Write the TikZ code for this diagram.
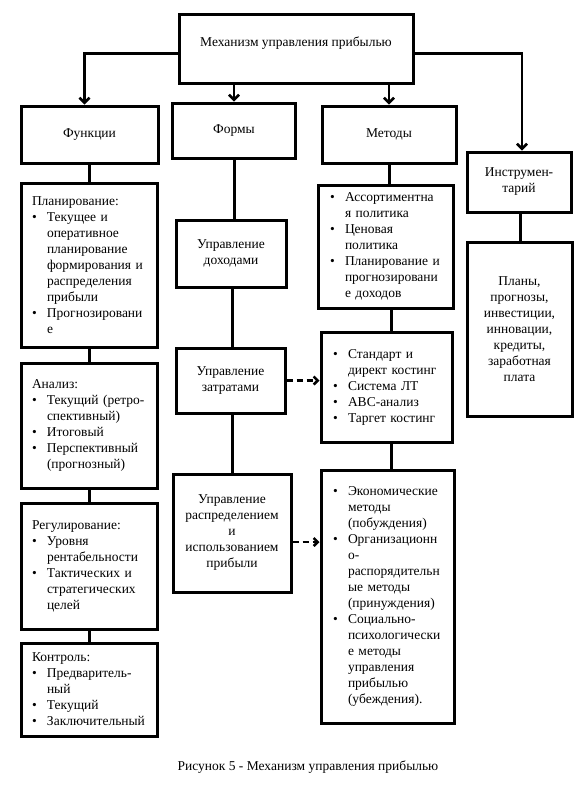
\documentclass[tikz,border=0pt]{standalone}
\usepackage{fontspec}
\setmainfont{Liberation Serif}
\usetikzlibrary{arrows.meta,calc}
\newcommand\bl{\makebox[15pt][l]{•}}
\newcommand\il{\hspace*{15pt}}
\begin{document}
\begin{tikzpicture}[x=1pt,y=-1pt,
  box/.style={draw,line width=3pt,inner sep=0pt,font=\fontsize{13.5}{16}\selectfont},
  cbox/.style={box,align=center},
  lbox/.style={box,align=left,inner xsep=11pt},
  mbox/.style={box,align=left,inner xsep=12pt},
  link/.style={line width=3pt},
  arr/.style={line width=2.5pt,-{Straight Barb[length=5pt,width=10pt,line width=2.5pt]}},
  darr/.style={line width=2.5pt,dash pattern=on 6pt off 4pt,-{Straight Barb[length=4pt,width=8pt,line width=2.5pt]}}]
\useasboundingbox (0,0) rectangle (584,788);
% top row
\node[cbox,minimum width=234pt,minimum height=69pt,text depth=13pt] (top) at (296,48.5) {Механизм управления прибылью};
\node[cbox,minimum width=137pt,minimum height=57pt] (fun) at (89.5,134.5) {Функции};
\node[cbox,minimum width=123pt,minimum height=55pt] (forms) at (234,130.5) {Формы};
\node[cbox,minimum width=134pt,minimum height=57pt] (met) at (389,134.5) {Методы};
\node[cbox,minimum width=104pt,minimum height=60pt] (instr) at (519,182) {Инструмен-\\тарий};
% left column
\node[lbox,text width=114pt,minimum height=164pt] (plan) at (89,265) {Планирование:\\ \bl Текущее и\\ \il оперативное\\ \il планирование\\ \il формирования и\\ \il распределения\\ \il прибыли\\ \bl Прогнозировани\\ \il е};
\node[lbox,text width=114pt,minimum height=125pt] (anal) at (89,425.5) {Анализ:\\ \bl Текущий (ретро-\\ \il спективный)\\ \bl Итоговый\\ \bl Перспективный\\ \il (прогнозный)};
\node[lbox,text width=114pt,minimum height=126pt] (reg) at (89,566) {Регулирование:\\ \bl Уровня\\ \il рентабельности\\ \bl Тактических и\\ \il стратегических\\ \il целей};
\node[lbox,text width=114pt,minimum height=93pt] (ctrl) at (89,689.5) {Контроль:\\ \bl Предваритель-\\ \il ный\\ \bl Текущий\\ \bl Заключительный};
% middle column
\node[cbox,minimum width=110pt,minimum height=67pt] (dox) at (231,253.5) {Управление\\доходами};
\node[cbox,minimum width=109pt,minimum height=65pt] (zat) at (230.5,380.5) {Управление\\затратами};
\node[cbox,minimum width=118pt,minimum height=118pt] (rasp) at (232,533) {Управление\\распределением\\и\\использованием\\прибыли};
% methods column
\node[mbox,text width=111pt,minimum height=123pt] (m1) at (385.5,246.5) {\bl Ассортиментна\\ \il я политика\\ \bl Ценовая\\ \il политика\\ \bl Планирование и\\ \il прогнозировани\\ \il е доходов};
\node[mbox,text width=107pt,minimum height=110pt] (m2) at (386.5,387) {\bl Стандарт и\\ \il директ костинг\\ \bl Система ЛТ\\ \bl ABC-анализ\\ \bl Таргет костинг};
\node[mbox,text width=109pt,minimum height=253pt] (m3) at (387.5,596.5) {\bl Экономические\\ \il методы\\ \il (побуждения)\\ \bl Организационн\\ \il о-\\ \il распорядительн\\ \il ые методы\\ \il (принуждения)\\ \bl Социально-\\ \il психологически\\ \il е методы\\ \il управления\\ \il прибылью\\ \il (убеждения).};
% instruments column
\node[cbox,minimum width=105pt,minimum height=174pt] (plans) at (519.5,329) {Планы,\\прогнозы,\\инвестиции,\\инновации,\\кредиты,\\заработная\\плата};
% caption
\node[font=\fontsize{13.5}{16}\selectfont] (cap) at (308,767) {Рисунок 5 - Механизм управления прибылью};
% arrows from top
\draw[arr] ([yshift=-5pt]top.west) -| ([xshift=-5pt]fun.north);
\draw[arr] ([yshift=-5pt]top.east) -| ([xshift=3pt]instr.north);
\draw[arr] (top.south -| forms.north) -- (forms.north);
\draw[arr] (top.south -| met.north) -- (met.north);
% links
\draw[link] (fun.south) -- (fun.south |- plan.north);
\draw[link] (plan.south) -- (anal.north);
\draw[link] (anal.south) -- (reg.north);
\draw[link] (reg.south) -- (ctrl.north);
\draw[link] (forms.south) -- (forms.south |- dox.north);
\draw[link] ([xshift=1pt]dox.south) -- ([xshift=1pt]dox.south |- zat.north);
\draw[link] ([xshift=1.5pt]zat.south) -- ([xshift=1.5pt]zat.south |- rasp.north);
\draw[link] (met.south) -- (met.south |- m1.north);
\draw[link] ([xshift=6pt]m1.south) -- ([xshift=6pt]m1.south |- m2.north);
\draw[link] ([xshift=5pt]m2.south) -- ([xshift=5pt]m2.south |- m3.north);
\draw[link] ([xshift=1.5pt]instr.south) -- ([xshift=1.5pt]instr.south |- plans.north);
% dashed
\draw[darr] (zat.east) -- (zat.east -| m2.west);
\draw[darr] ([yshift=-9pt]rasp.east) -- ([yshift=-9pt]rasp.east -| m3.west);
\end{tikzpicture}
\end{document}
